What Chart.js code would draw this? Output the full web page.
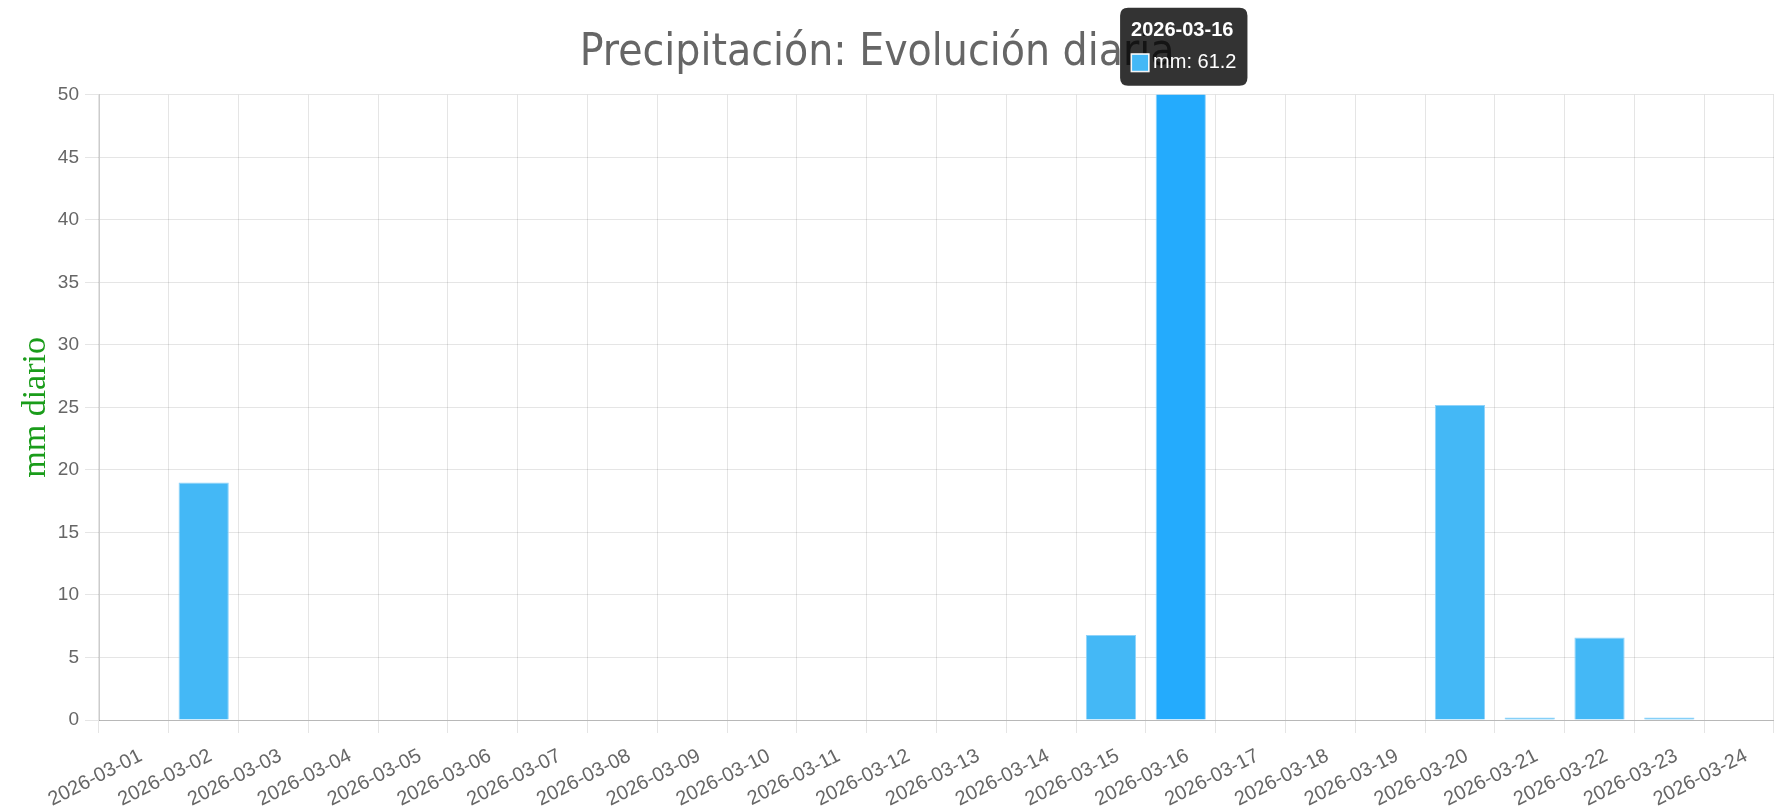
<!DOCTYPE html>
<html>
<head>
<meta charset="utf-8">
<script src="https://cdn.jsdelivr.net/npm/chart.js@4/dist/chart.umd.min.js"></script>
<style>
  html, body { margin: 0; padding: 0; background: #fff; }
  #wrap { width: 1774px; height: 811px; }
</style>
</head>
<body>
<div id="wrap"><canvas id="c" width="1774" height="811"></canvas></div>
<script>
const categories = [
  '2026-03-01','2026-03-02','2026-03-03','2026-03-04','2026-03-05','2026-03-06',
  '2026-03-07','2026-03-08','2026-03-09','2026-03-10','2026-03-11','2026-03-12',
  '2026-03-13','2026-03-14','2026-03-15','2026-03-16','2026-03-17','2026-03-18',
  '2026-03-19','2026-03-20','2026-03-21','2026-03-22','2026-03-23','2026-03-24'
];
const mmValues = [
  0, 19.0, 0, 0, 0, 0,
  0, 0, 0, 0, 0, 0,
  0, 0, 6.8, 61.2, 0, 0,
  0, 25.2, 0.2, 6.6, 0.2, 0
];
const seriesLabel = 'mm';
const chartTitle = 'Precipitación: Evolución diaria';
const yAxisTitle = 'mm diario';
const yMin = 0, yMax = 50, yStep = 5;
const activeIndex = 15;

Chart.Tooltip.positioners.aboveArea = function (elements) {
  if (!elements.length) return false;
  const el = elements[0].element;
  return { x: el.x + 3, y: this.chart.chartArea.top - 9 };
};

const tickFont = { family: "'Liberation Sans', Arial, sans-serif", size: 19 };
const xTickFont = { family: "'Liberation Sans', Arial, sans-serif", size: 20 };

const chart = new Chart(document.getElementById('c'), {
  type: 'bar',
  data: {
    labels: categories,
    datasets: [{
      label: seriesLabel,
      data: mmValues,
      backgroundColor: '#44b8f6',
      borderColor: '#8fd3fa',
      borderWidth: 1,
      hoverBackgroundColor: '#24abfd',
      hoverBorderColor: '#8fd3fa',
      hoverBorderWidth: 1,
      barPercentage: 0.9,
      categoryPercentage: 0.8
    }]
  },
  options: {
    responsive: false,
    animation: false,
    devicePixelRatio: 1,
    layout: { padding: 0 },
    events: [],
    plugins: {
      legend: { display: false },
      title: {
        display: true,
        text: chartTitle + '\u2002',
        color: '#666',
        font: { family: "'DejaVu Sans Condensed', 'DejaVu Sans', sans-serif", size: 44, weight: 'normal' },
        padding: { top: 27, bottom: 15 }
      },
      tooltip: {
        enabled: true,
        position: 'aboveArea',
        yAlign: 'bottom',
        xAlign: 'center',
        caretSize: 0,
        caretPadding: 0,
        backgroundColor: 'rgba(0,0,0,0.8)',
        cornerRadius: 8,
        padding: 11,
        titleMarginBottom: 8,
        titleFont: { family: "'Liberation Sans', Arial, sans-serif", size: 20, weight: 'bold' },
        bodyFont: { family: "'Liberation Sans', Arial, sans-serif", size: 20 },
        boxWidth: 18,
        boxHeight: 18,
        boxPadding: 2,
        displayColors: true,
        callbacks: {
          labelColor: () => ({ borderColor: '#ffffff', backgroundColor: '#44b8f6', borderWidth: 1 })
        }
      }
    },
    scales: {
      x: {
        offset: true,
        grid: { offset: true, color: 'rgba(0,0,0,0.1)', tickLength: 13, drawOnChartArea: true },
        border: { color: 'rgba(0,0,0,0.2)' },
        ticks: {
          color: '#666',
          font: xTickFont,
          minRotation: 27,
          maxRotation: 27,
          autoSkip: false,
          padding: 11,
          labelOffset: 7
        },
        afterFit: (s) => { s.height = 91; }
      },
      y: {
        min: yMin,
        max: yMax,
        grid: { color: 'rgba(0,0,0,0.1)', tickLength: 14 },
        border: { color: 'rgba(0,0,0,0.2)' },
        ticks: { stepSize: yStep, color: '#666', font: tickFont, padding: 6 },
        title: {
          display: true,
          text: yAxisTitle,
          color: '#1a9c1a',
          font: { family: "'Liberation Serif', 'Times New Roman', serif", size: 34 },
          padding: { top: 16, bottom: 0 }
        },
        afterFit: (s) => { s.width = 99; }
      }
    }
  }
});

chart.setActiveElements([{ datasetIndex: 0, index: activeIndex }]);
chart.tooltip.setActiveElements([{ datasetIndex: 0, index: activeIndex }], { x: 0, y: 0 });
chart.update('none');
</script>
</body>
</html>
